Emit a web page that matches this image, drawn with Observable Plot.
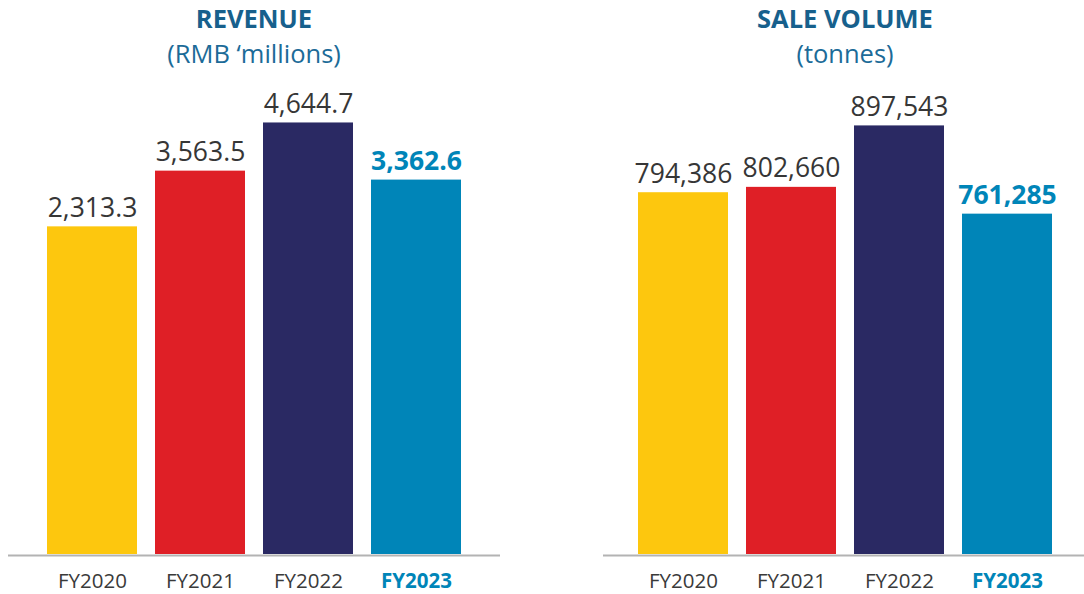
<!DOCTYPE html>
<html><head><meta charset="utf-8">
<script src="https://cdn.jsdelivr.net/npm/d3@7"></script>
<script src="https://cdn.jsdelivr.net/npm/@observablehq/plot@0.6"></script>
<style>
html,body{margin:0;padding:0;background:#fff;}
body{font-family:"Open Sans",sans-serif;}
#wrap{position:relative;width:1084px;height:594px;overflow:hidden;}
.panel{position:absolute;top:0;width:542px;height:594px;}
.title{position:absolute;width:400px;text-align:center;font-size:25.5px;line-height:25.5px;font-weight:700;color:#17608c;top:5.5px;white-space:nowrap;}
.sub{position:absolute;width:400px;text-align:center;font-size:25.5px;line-height:25.5px;color:#1c6b98;top:40.5px;white-space:nowrap;}
.chart{position:absolute;left:0;top:80px;}
</style></head><body>
<div id="wrap">
 <div class="panel" style="left:0">
  <div class="title" style="left:54px">REVENUE</div>
  <div class="sub" style="left:54px">(RMB ‘millions)</div>
  <div class="chart" id="c1"></div>
 </div>
 <div class="panel" style="left:542px">
  <div class="title" style="left:103px">SALE VOLUME</div>
  <div class="sub" style="left:103px">(tonnes)</div>
  <div class="chart" id="c2"></div>
 </div>
</div>
<script>
const years = ["FY2020", "FY2021", "FY2022", "FY2023"];
const revenue = [2313.3, 3563.5, 4644.7, 3362.6];
const volume = [794386, 802660, 897543, 761285];
const highlight = "FY2023";
const palette = ["#fdc70e", "#df1f26", "#2a2963", "#0085b8"];

function makeChart(values, fmt, domain, opts) {
  const data = years.map((year, i) => ({year, value: values[i]}));
  const base = domain[0];
  return Plot.plot({
    width: 542,
    height: 514,
    marginTop: 40,
    marginBottom: 40,
    marginLeft: opts.marginLeft,
    marginRight: opts.marginRight,
    style: {fontFamily: "Open Sans", background: "transparent", overflow: "visible"},
    x: {domain: years, axis: null, paddingInner: 0.165, paddingOuter: opts.paddingOuter, align: opts.align},
    y: {domain, axis: null, nice: false},
    color: {domain: years, range: palette},
    marks: [
      Plot.ruleY([base], {stroke: "#b3b3b3", strokeWidth: 2, dy: 1}),
      Plot.barY(data, {x: "year", y1: () => base, y2: "value", fill: "year"}),
      Plot.text(data.filter(d => d.year !== highlight), {
        x: "year", y: "value", text: d => fmt(d.value), dy: -10, lineAnchor: "bottom",
        fontSize: 26.5, fill: "#363636"
      }),
      Plot.text(data.filter(d => d.year === highlight), {
        x: "year", y: "value", text: d => fmt(d.value), dy: -10, lineAnchor: "bottom",
        fontSize: 26.5, fontWeight: "bold", fill: "#0085b8"
      }),
      Plot.text(years.filter(y => y !== highlight), {
        x: d => d, y: () => base, text: d => d, dy: 33, lineAnchor: "bottom",
        fontSize: 20.5, fill: "#3a3a3a"
      }),
      Plot.text([highlight], {
        x: d => d, y: () => base, text: d => d, dy: 33, lineAnchor: "bottom",
        fontSize: 20.5, fontWeight: "bold", fill: "#0085b8"
      })
    ]
  });
}

document.getElementById("c1").append(
  makeChart(revenue, d3.format(",.1f"), [-5040, 4700],
    {marginLeft: 8, marginRight: 42, paddingOuter: 0.34, align: 0.5})
);
document.getElementById("c2").append(
  makeChart(volume, d3.format(",d"), [235700, 905900],
    {marginLeft: 61, marginRight: 0, paddingOuter: 0.289, align: 0.524})
);
</script>
</body></html>
